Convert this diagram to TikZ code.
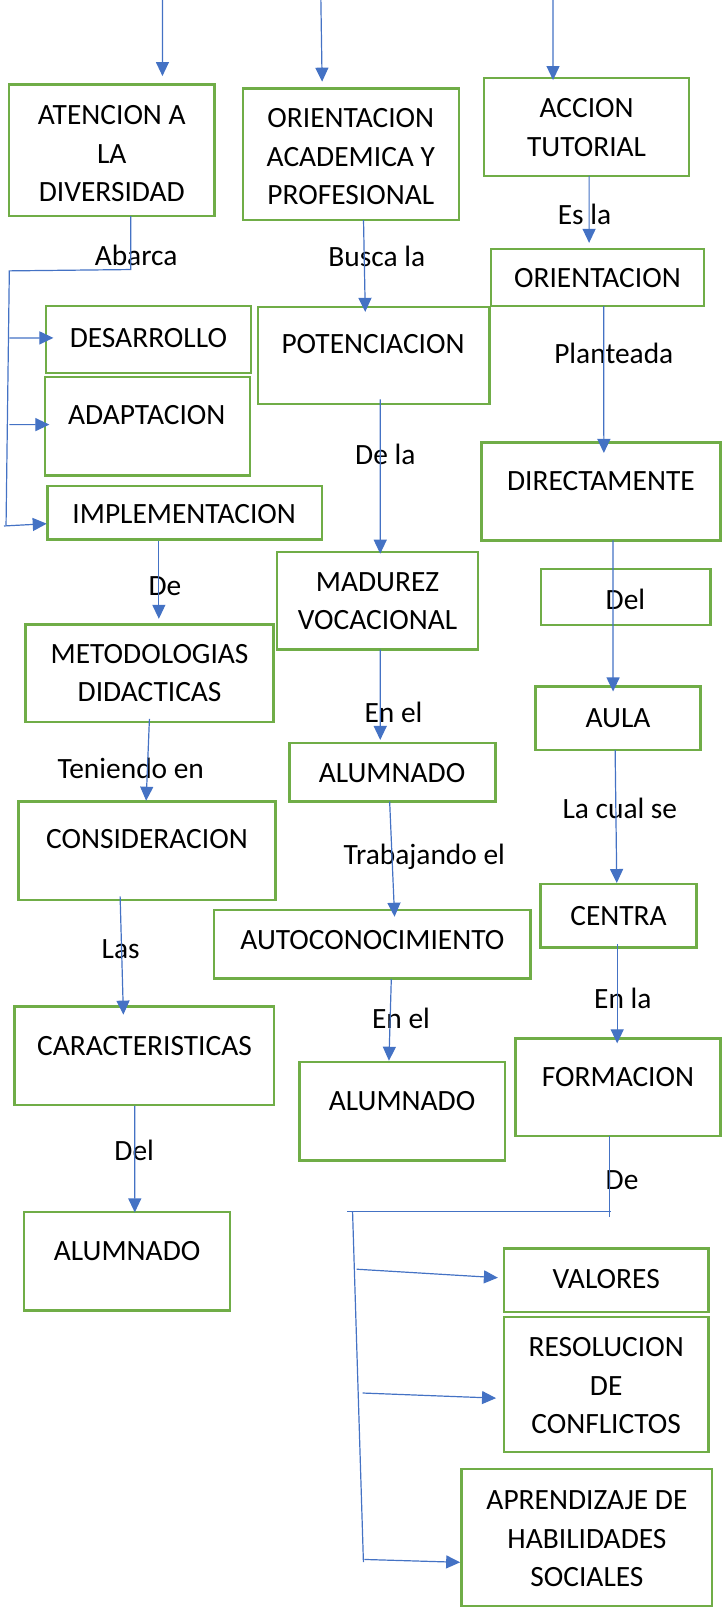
\documentclass[tikz,border=0pt]{standalone}
\usepackage{fontspec}
\setmainfont{Carlito}
\usetikzlibrary{arrows.meta,calc,fit}
\definecolor{boxgreen}{RGB}{112,173,71}
\definecolor{arrowblue}{RGB}{68,114,196}
\tikzset{
  box/.style={draw=boxgreen, line width=2.4pt, rectangle, inner sep=0pt, outer sep=0pt},
  txt/.style={anchor=base, inner sep=0pt, outer sep=0pt, align=center, font=\fontsize{29.4}{38.5}\selectfont, text=black},
  conn/.style={draw=arrowblue, line width=1.2pt},
  arr/.style={conn, -{Triangle[length=14pt,width=13pt]}},
}
\begin{document}
\begin{tikzpicture}[x=1.0241pt, y=-1.0241pt]
\useasboundingbox (0,0) rectangle (704,1568);
% ---------- boxes ----------
\node[box, fit={(9,82.3) (209.2,210.9)}] (atencion) {};
\node[box, fit={(237,86.3) (447.6,214.8)}] (orientac) {};
\node[box, fit={(472.3,76.2) (672.4,171.7)}] (accion) {};
\node[box, fit={(479,242.7) (686.8,298.6)}] (orient) {};
\node[box, fit={(44.6,298.8) (244.8,363.9)}] (desarrollo) {};
\node[box, fit={(43.9,367.8) (244.1,463.8)}] (adaptacion) {};
\node[box, fit={(46.5,474) (314.1,526.3)}] (implementacion) {};
\node[box, fit={(251.6,299.5) (477.5,393.9)}] (potenciacion) {};
\node[box, fit={(469.7,431.9) (703,527.3)}] (directamente) {};
\node[box, fit={(270.2,538.7) (466.5,633.9)}] (madurez) {};
\node[box, fit={(528,555.3) (693.3,609.6)}] (delbox) {};
\node[box, fit={(25,609.4) (267,704.4)}] (metodologias) {};
\node[box, fit={(522.4,669.9) (683.5,731.7)}] (aula) {};
\node[box, fit={(282.5,724.7) (483.4,782.2)}] (alumnadoA) {};
\node[box, fit={(17.9,782.2) (268.9,877.9)}] (consideracion) {};
\node[box, fit={(527.3,862.8) (679.6,924.4)}] (centra) {};
\node[box, fit={(209,888) (517.5,954.7)}] (autoconocimiento) {};
\node[box, fit={(14.3,982) (267.6,1078.4)}] (caracteristicas) {};
\node[box, fit={(502.9,1013.2) (703,1108.6)}] (formacion) {};
\node[box, fit={(292.2,1036.4) (492.5,1132.4)}] (alumnadoB) {};
\node[box, fit={(23.3,1182.5) (224.5,1278.6)}] (alumnadoC) {};
\node[box, fit={(491.6,1218.3) (691.4,1279.9)}] (valores) {};
\node[box, fit={(491.6,1284.8) (691.4,1416.6)}] (resolucion) {};
\node[box, fit={(450.3,1433.2) (695,1566.8)}] (aprendizaje) {};
% ---------- box texts (base = last line) ----------
\node[txt] (t-atencion) at (109.1,196.8) {ATENCION A\\LA\\DIVERSIDAD};
\node[txt] (t-orientac) at (342.3,199.6) {ORIENTACION\\ACADEMICA Y\\PROFESIONAL};
\node[txt] (t-accion) at (572.35,152.4) {ACCION\\TUTORIAL};
\node[txt] (t-orient) at (582.9,281) {ORIENTACION};
\node[txt] (t-desarrollo) at (144.8,338.6) {DESARROLLO};
\node[txt] (t-adaptacion) at (143.2,414.4) {ADAPTACION};
\node[txt] (t-implementacion) at (179.7,511.1) {IMPLEMENTACION};
\node[txt] (t-potenciacion) at (364,345.4) {POTENCIACION};
\node[txt] (t-directamente) at (586.3,478.6) {DIRECTAMENTE};
\node[txt] (t-madurez) at (368.35,614.6) {MADUREZ\\VOCACIONAL};
\node[txt] (t-del) at (610.3,595.1) {Del};
\node[txt] (t-metodologias) at (146,684.6) {METODOLOGIAS\\DIDACTICAS};
\node[txt] (t-aula) at (603,710) {AULA};
\node[txt] (t-alumnadoA) at (382.5,763.7) {ALUMNADO};
\node[txt] (t-consideracion) at (143.4,827.8) {CONSIDERACION};
\node[txt] (t-centra) at (603.5,902.7) {CENTRA};
\node[txt] (t-autoconocimiento) at (363.3,926.4) {AUTOCONOCIMIENTO};
\node[txt] (t-caracteristicas) at (141,1029.7) {CARACTERISTICAS};
\node[txt] (t-formacion) at (603,1060.5) {FORMACION};
\node[txt] (t-alumnadoB) at (392.3,1083.4) {ALUMNADO};
\node[txt] (t-alumnadoC) at (124,1229.8) {ALUMNADO};
\node[txt] (t-valores) at (591.5,1256.9) {VALORES};
\node[txt] (t-resolucion) at (591.5,1399.1) {RESOLUCION\\DE\\CONFLICTOS};
\node[txt] (t-aprendizaje) at (572.7,1548.2) {APRENDIZAJE DE\\HABILIDADES\\SOCIALES};
% ---------- connector labels ----------
\node[txt] (l-abarca) at (132.8,259.3) {Abarca};
\node[txt] (l-busca) at (367.7,259.9) {Busca la};
\node[txt] (l-esla) at (570.3,218.6) {Es la};
\node[txt] (l-planteada) at (598.9,354.3) {Planteada};
\node[txt] (l-dela) at (376,453.3) {De la};
\node[txt] (l-de) at (161,581.3) {De};
\node[txt] (l-enel) at (384,704.9) {En el};
\node[txt] (l-teniendo) at (127.6,759.9) {Teniendo en};
\node[txt] (l-lacual) at (604.8,798.6) {La cual se};
\node[txt] (l-trabajando) at (414,843.3) {Trabajando el};
\node[txt] (l-las) at (117.8,935.3) {Las};
\node[txt] (l-enla) at (607.7,984.1) {En la};
\node[txt] (l-enelB) at (391.3,1003.7) {En el};
\node[txt] (l-del) at (130.9,1132.3) {Del};
\node[txt] (l-deB) at (607,1160.9) {De};
% ---------- free ends at the top ----------
\coordinate (top1) at (158.5,-5);
\coordinate (top2) at (313,-5);
\coordinate (top3) at (539.6,-5);
% ---------- connectors ----------
\draw[arr] (top1) -- ($(atencion.north)+(49.4,-8.1)$);
\draw[arr] (top2) -- ($(orientac.north)+(-28,-6.6)$);
\draw[arr] (top3) -- ($(accion.north)+(-32.75,1.9)$);
\draw[arr] ($(accion.south)+(2.45,0)$) -- ($(orient.north)+(-8.1,-5.7)$);
% Abarca bracket
\draw[conn] ($(atencion.south)+(18.5,0)$) -- ++(0,52.1) -- ++(-118.5,1.3) coordinate (trunkL1) -- ++(-3.2,248.3) coordinate (trunkL2);
\draw[arr] ($(trunkL1)+(0,65.4)$) -- ($(desarrollo.west)+(7.5,-1.65)$);
\draw[arr] ($(trunkL1)+(0,150)$) -- ($(adaptacion.west)+(4.3,-1.5)$);
\draw[arr] ($(trunkL2)+(-2,0.6)$) -- ($(implementacion.west)+(-0.9,10.85)$);
% middle and right columns
\draw[arr] ($(orientac.south)+(12.4,0)$) -- ($(potenciacion.north)+(-8.15,4.8)$);
\draw[arr] ($(orient.south)+(6.2,0)$) -- ($(directamente.north)+(2.85,10.1)$);
\draw[arr] ($(potenciacion.south)+(6.45,-4.3)$) -- ($(madurez.north)+(2.65,1.6)$);
\draw[arr] ($(implementacion.south)+(-25.3,2)$) -- ($(metodologias.north)+(9,-5.6)$);
\draw[arr] ($(directamente.south)+(11.85,0)$) -- ($(aula.north)+(-4.75,4.8)$);
\draw[arr] ($(madurez.south)+(2.65,0)$) -- ($(alumnadoA.north)+(-11.95,-2.7)$);
\draw[arr] ($(metodologias.south)+(-0.2,-3)$) -- ($(consideracion.north)+(-0.8,-0.9)$);
\draw[arr] ($(aula.south)+(-2.75,0)$) -- ($(centra.north)+(-1.65,-1.2)$);
\draw[arr] ($(alumnadoA.south)+(-2.75,0)$) -- ($(autoconocimiento.north)+(21.75,6.5)$);
\draw[arr] ($(consideracion.south)+(-26.2,-3.3)$) -- ($(caracteristicas.north)+(-20.55,8)$);
\draw[arr] ($(centra.south)+(-1.25,-3.3)$) -- ($(formacion.north)+(-0.75,4.8)$);
\draw[arr] ($(autoconocimiento.south)+(18.55,0.7)$) -- ($(alumnadoB.north)+(-12.85,-1.4)$);
\draw[arr] ($(caracteristicas.south)+(-9.45,0.6)$) -- ($(alumnadoC.north)+(7.6,0.5)$);
% De bracket
\draw[conn] ($(formacion.south)+(-8.25,0)$) -- ++(0,78.9);
\draw[conn] ($(formacion.south)+(-6.95,73.6)$) coordinate (hR) -- ++(-257,0) coordinate (hL);
\draw[conn] ($(hL)+(5,0)$) coordinate (trunkR1) -- ++(10.6,342) coordinate (trunkR2);
\draw[arr] ($(trunkR1)+(4,56.2)$) -- ($(valores.west)+(-5.8,-2.4)$);
\draw[arr] ($(trunkR1)+(9.8,177)$) -- ($(resolucion.west)+(-7.6,13.5)$);
\draw[arr] ($(trunkR1)+(11.6,339.4)$) -- ($(aprendizaje.west)+(-1.3,24.4)$);
\end{tikzpicture}
\end{document}
